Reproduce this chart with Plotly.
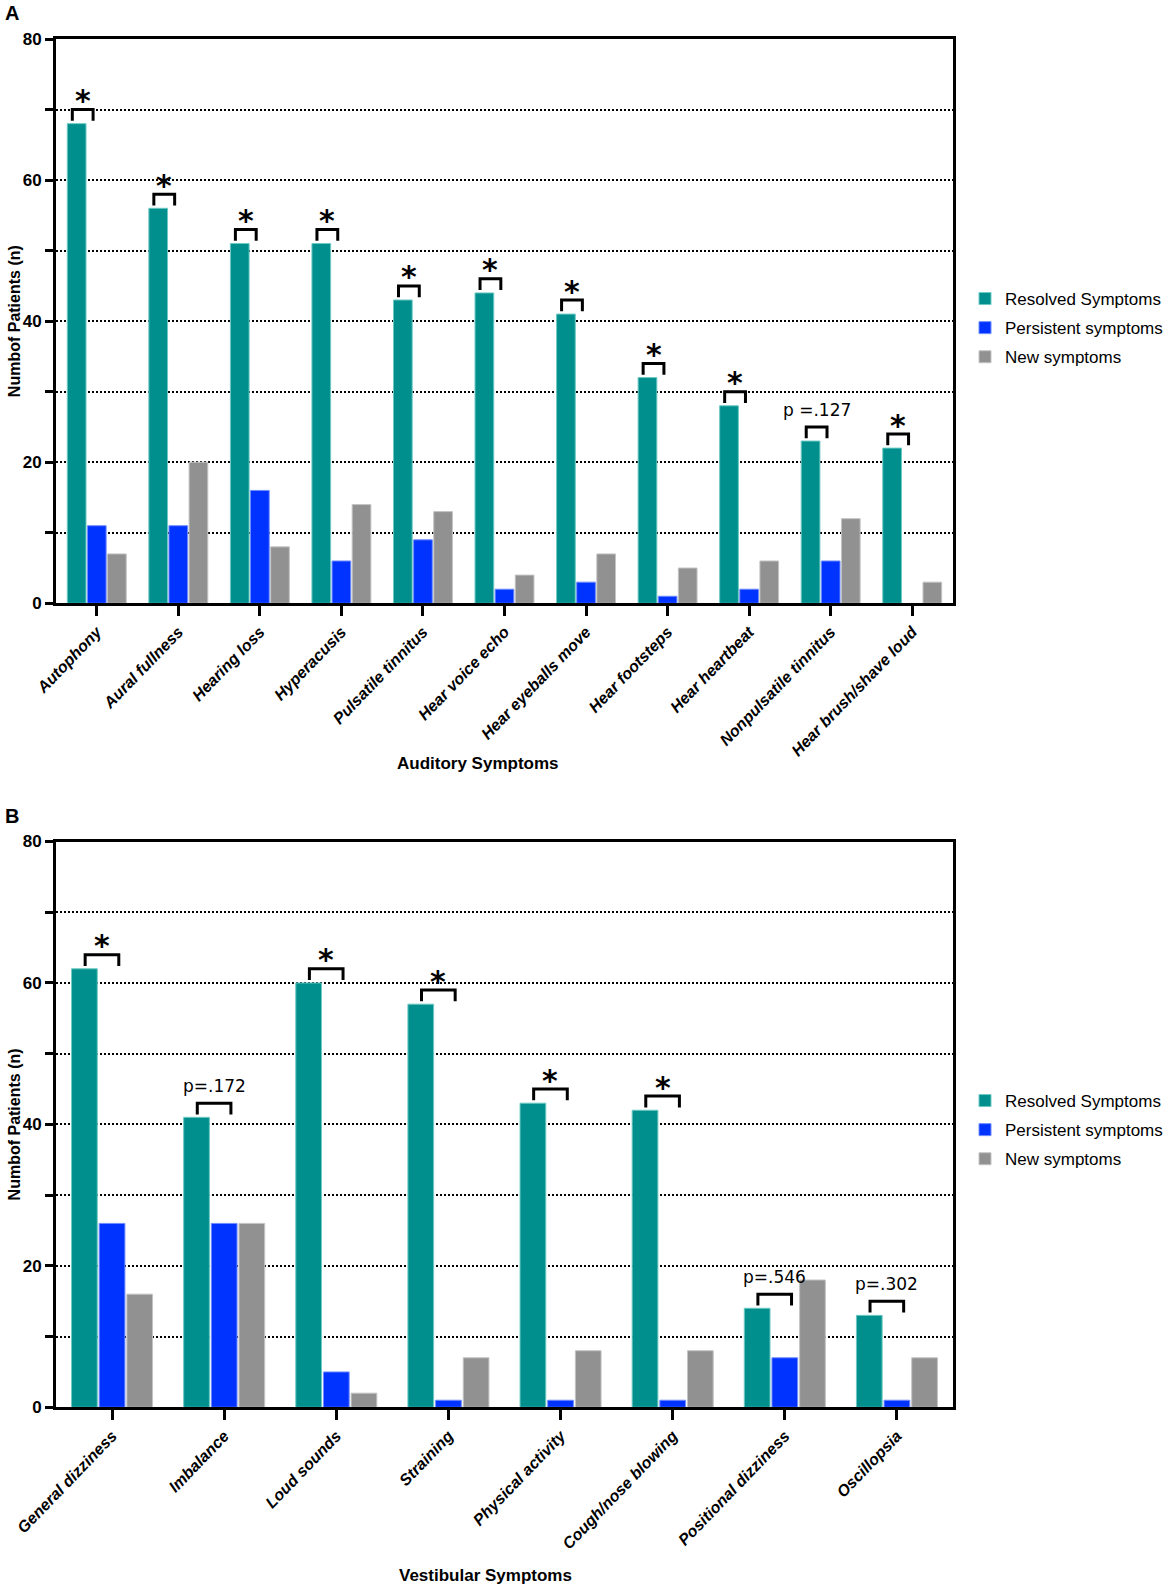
import plotly.graph_objects as go

# ---------------- data ----------------
A_categories = ["Autophony", "Aural fullness", "Hearing loss", "Hyperacusis",
                "Pulsatile tinnitus", "Hear voice echo", "Hear eyeballs move",
                "Hear footsteps", "Hear heartbeat", "Nonpulsatile tinnitus",
                "Hear brush/shave loud"]
A_resolved = [68, 56, 51, 51, 43, 44, 41, 32, 28, 23, 22]
A_persistent = [11, 11, 16, 6, 9, 2, 3, 1, 2, 6, 0]
A_new = [7, 20, 8, 14, 13, 4, 7, 5, 6, 12, 3]
A_sig = ["*", "*", "*", "*", "*", "*", "*", "*", "*", "p =.127", "*"]

B_categories = ["General dizziness", "Imbalance", "Loud sounds", "Straining",
                "Physical activity", "Cough/nose blowing", "Positional dizziness",
                "Oscillopsia"]
B_resolved = [62, 41, 60, 57, 43, 42, 14, 13]
B_persistent = [26, 26, 5, 1, 1, 1, 7, 1]
B_new = [16, 26, 2, 7, 8, 8, 18, 7]
B_sig = ["*", "p=.172", "*", "*", "*", "*", "p=.546", "p=.302"]

series_names = ["Resolved Symptoms", "Persistent symptoms", "New symptoms"]
y_ticks = [0, 20, 40, 60, 80]

# ---------------- style ----------------
W, H = 1170, 1591
TEAL, BLUE, GRAY = "#008F8C", "#0033FF", "#919191"
EDGE = ["#6CC9C4", "#6F8CFF", "#C4C4C4"]
COLORS = [TEAL, BLUE, GRAY]
SANS = "Liberation Sans, Arial, sans-serif"

X0, X1 = 56, 953
A_TOP, A_BOT = 39, 603.3
B_TOP, B_BOT = 841.5, 1407.3


def fx(px):
    return px / W


def fy(py):
    return 1 - py / H


fig = go.Figure()
annotations = []


def add_panel(cats, res, per, new, sig, xa, ya, legend, l_off, r_off):
    idx = list(range(len(cats)))
    for k, (name, vals, col, edge) in enumerate(zip(series_names, [res, per, new], COLORS, EDGE)):
        fig.add_trace(go.Bar(
            x=idx, y=vals, name=name, xaxis=xa, yaxis=ya, legend=legend,
            legendgroup=f"{legend}-{k}",
            marker=dict(color=col,
                        line=dict(color=edge, width=[0 if v == 0 else 1 for v in vals])),
            hoverinfo="skip"))
    # significance brackets
    bx, by = [], []
    for i, v in zip(idx, res):
        xl, xr = i + l_off, i + r_off
        bx += [xl, xl, xr, xr, None]
        by += [v + 0.4, v + 2.0, v + 2.0, v + 0.4, None]
    fig.add_trace(go.Scatter(x=bx, y=by, mode="lines", xaxis=xa, yaxis=ya,
                             line=dict(color="black", width=3),
                             showlegend=False, hoverinfo="skip"))
    for i, (v, s) in enumerate(zip(res, sig)):
        xc = i + (l_off + r_off) / 2
        if s == "*":
            annotations.append(dict(
                x=xc, y=v, xref=xa, yref=ya, text="*", showarrow=False,
                yanchor="middle", yshift=23,
                font=dict(family="DejaVu Sans", size=30, color="black", weight="bold")))
        else:
            annotations.append(dict(
                x=xc, y=v, xref=xa, yref=ya, text=s, showarrow=False,
                yanchor="middle", yshift=31,
                font=dict(family="DejaVu Sans", size=17, color="black")))


add_panel(A_categories, A_resolved, A_persistent, A_new, A_sig, "x", "y", "legend", -0.30, -0.045)
add_panel(B_categories, B_resolved, B_persistent, B_new, B_sig, "x2", "y2", "legend2", -0.24, 0.06)


def yaxis(domain, anchor):
    return dict(
        domain=domain, anchor=anchor, range=[0, 80], tickvals=y_ticks,
        ticks="outside", ticklen=8, tickwidth=3, tickcolor="black",
        showline=True, linewidth=3, linecolor="black", mirror=True,
        showgrid=True, gridcolor="black", gridwidth=1.5, griddash="2px,2px",
        zeroline=False, fixedrange=True, automargin=False,
        minor=dict(dtick=10, tick0=0, ticks="outside", ticklen=8, tickwidth=3,
                   tickcolor="black", showgrid=True, gridcolor="black",
                   gridwidth=1.5, griddash="2px,2px"),
        tickfont=dict(family=SANS, size=17, color="black", weight="bold"))


def xaxis(domain, anchor, cats):
    return dict(
        domain=domain, anchor=anchor, range=[-0.5, len(cats) - 0.5],
        tickvals=list(range(len(cats))), ticktext=cats, tickangle=-46,
        ticks="outside", ticklen=10, tickwidth=3, tickcolor="black",
        showline=True, linewidth=3, linecolor="black", mirror=True,
        showgrid=False, zeroline=False, fixedrange=True, automargin=False,
        tickfont=dict(family=SANS, size=16, color="black", weight="bold", style="italic"))


# axis titles & panel letters
for text, x, y in [("Auditory Symptoms", 478, 763), ("Vestibular Symptoms", 485, 1575)]:
    annotations.append(dict(x=fx(x), y=fy(y), xref="paper", yref="paper", text=text,
                            showarrow=False, xanchor="center", yanchor="middle",
                            font=dict(family=SANS, size=17, color="black", weight="bold")))
for yc in [(A_TOP + A_BOT) / 2, (B_TOP + B_BOT) / 2]:
    annotations.append(dict(x=fx(14), y=fy(yc), xref="paper", yref="paper",
                            text="Numbof Patients (n)", textangle=-90, showarrow=False,
                            xanchor="center", yanchor="middle",
                            font=dict(family=SANS, size=16, color="black", weight="bold")))
for text, y in [("A", 13), ("B", 816)]:
    annotations.append(dict(x=fx(12), y=fy(y), xref="paper", yref="paper", text=text,
                            showarrow=False, xanchor="center", yanchor="middle",
                            font=dict(family=SANS, size=20, color="black", weight="bold")))

legend_style = dict(xanchor="left", yanchor="middle", bgcolor="rgba(0,0,0,0)",
                    font=dict(family=SANS, size=17, color="black"),
                    traceorder="grouped", tracegroupgap=4,
                    itemclick=False, itemdoubleclick=False)

fig.update_layout(
    width=W, height=H, autosize=False,
    margin=dict(l=0, r=0, t=0, b=0, autoexpand=False),
    paper_bgcolor="white", plot_bgcolor="white",
    barmode="group", bargap=0.26, bargroupgap=0.07,
    xaxis=xaxis([fx(X0), fx(X1)], "y", A_categories),
    yaxis=yaxis([fy(A_BOT), fy(A_TOP)], "x"),
    xaxis2=xaxis([fx(X0), fx(X1)], "y2", B_categories),
    yaxis2=yaxis([fy(B_BOT), fy(B_TOP)], "x2"),
    legend=dict(x=fx(965), y=fy(328), **legend_style),
    legend2=dict(x=fx(965), y=fy(1130), **legend_style),
    annotations=annotations,
    showlegend=True,
)

fig.write_html("out.html", post_script="document.body.style.margin='0';",
               config={"displayModeBar": False})
